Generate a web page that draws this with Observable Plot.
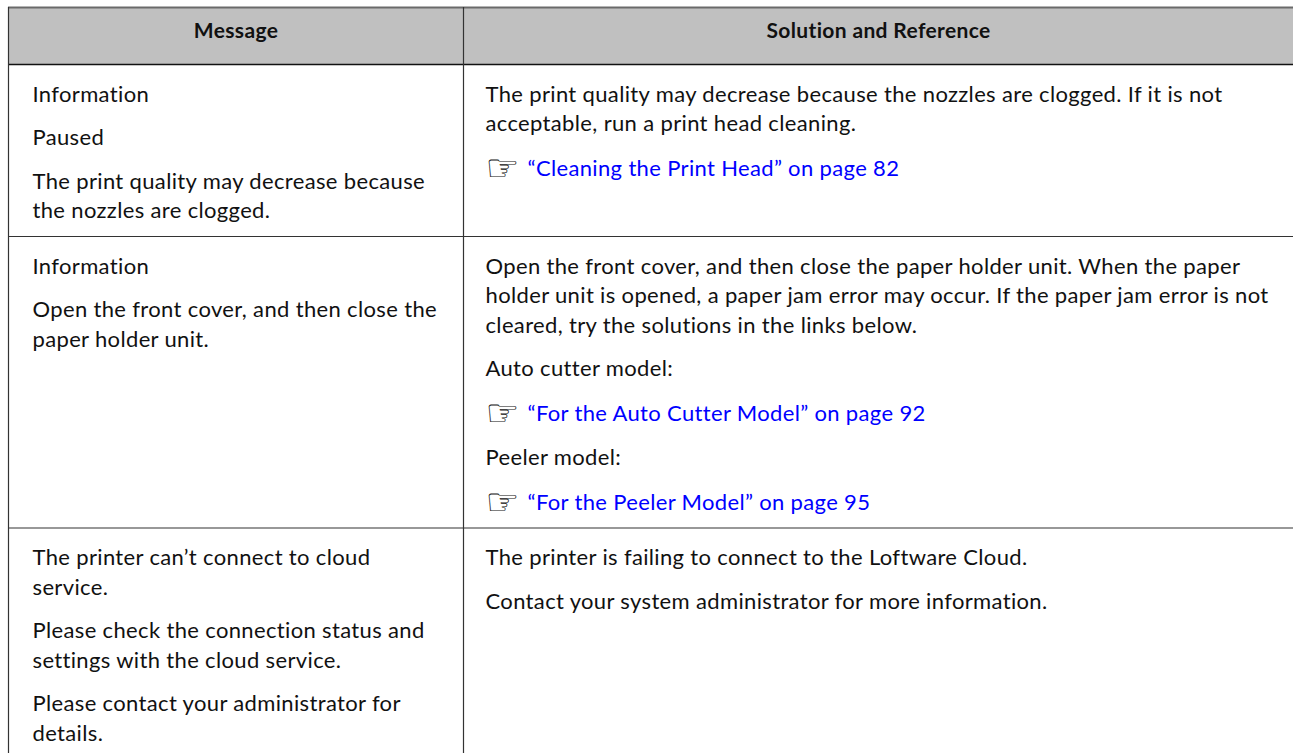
<!DOCTYPE html>
<html>
<head>
<meta charset="utf-8">
<script src="https://cdn.jsdelivr.net/npm/d3@7"></script>
<script src="https://cdn.jsdelivr.net/npm/@observablehq/plot@0.6"></script>
<style>
  html, body { margin: 0; padding: 0; background: #fff; }
  svg { display: block; }
  svg text { font-variant-ligatures: none; letter-spacing: 0.35px; }
</style>
</head>
<body>
<div id="chart"></div>
<script>
// ---- Data (text content) ----
const headers = ["Message", "Solution and Reference"];

const messageRow1 = ["Information", "Paused", "The print quality may decrease because\nthe nozzles are clogged."];
const messageRow2 = ["Information", "Open the front cover, and then close the\npaper holder unit."];
const messageRow3 = ["The printer can’t connect to cloud\nservice.", "Please check the connection status and\nsettings with the cloud service.", "Please contact your administrator for\ndetails."];

const solutionRow1 = [
  "The print quality may decrease because the nozzles are clogged. If it is not\nacceptable, run a print head cleaning.",
  "→“Cleaning the Print Head” on page 82"
];
const solutionRow2 = [
  "Open the front cover, and then close the paper holder unit. When the paper\nholder unit is opened, a paper jam error may occur. If the paper jam error is not\ncleared, try the solutions in the links below.",
  "Auto cutter model:",
  "→“For the Auto Cutter Model” on page 92",
  "Peeler model:",
  "→“For the Peeler Model” on page 95"
];
const solutionRow3 = [
  "The printer is failing to connect to the Loftware Cloud.",
  "Contact your system administrator for more information."
];

const messages = [messageRow1, messageRow2, messageRow3];
const solutions = [solutionRow1, solutionRow2, solutionRow3];

// ---- Layout constants ----
const W = 1293, H = 753;
const X0 = 8, XMID = 463, X1 = 1293;
const TOP = 7, HEAD_BOTTOM = 64;
const PAD_LEFT = 24, PAD_RIGHT_COL = 22;
const FIRST = 37, LINE = 29.5, PARA = 43.5, LINK_EXTRA = 1.5, BOTTOM_PAD = 18.5;
const ICON_W = 42;

const lines = [];   // {x, y, text, kind}
const rowLines = [];
let rowTop = HEAD_BOTTOM;
function layoutCell(paras, x) {
  let y = rowTop + FIRST;
  let last = y;
  paras.forEach((p, i) => {
    const isLink = p.startsWith("→");
    if (i > 0) y += PARA + (isLink ? LINK_EXTRA : 0);
    const parts = (isLink ? p.slice(1) : p).split("\n");
    parts.forEach((t, j) => {
      if (j > 0) y += LINE;
      if (isLink) {
        lines.push({x, y, text: "☞", kind: "icon"});
        lines.push({x: x + ICON_W, y, text: t, kind: "link"});
      } else {
        lines.push({x, y, text: t, kind: "text"});
      }
      last = y;
    });
  });
  return last;
}
messages.forEach((m, r) => {
  const a = layoutCell(m, X0 + PAD_LEFT);
  const b = layoutCell(solutions[r], XMID + PAD_RIGHT_COL);
  rowTop = Math.max(a, b) + BOTTOM_PAD;
  if (r < messages.length - 1) rowLines.push(rowTop);
});

const headerCells = headers.map((h, i) => ({text: h, x: i === 0 ? (X0 + XMID) / 2 : (XMID + X1) / 2}));

const plot = Plot.plot({
  width: W,
  height: H,
  margin: 0,
  x: {domain: [0, W], range: [0, W], axis: null},
  y: {domain: [0, H], range: [0, H], axis: null},
  style: {fontFamily: "Lato, 'Open Sans', sans-serif", background: "#fff", overflow: "visible"},
  marks: [
    Plot.rect([0], {x1: X0, x2: X1, y1: TOP, y2: HEAD_BOTTOM, fill: "#c0c0c0"}),
    Plot.ruleY([TOP], {x1: X0, x2: X1, stroke: "#6a6a6a", strokeWidth: 2}),
    Plot.ruleY([HEAD_BOTTOM], {x1: X0, x2: X1, stroke: "#111", strokeWidth: 1.3}),
    Plot.ruleY(rowLines, {x1: X0, x2: X1, stroke: "#333", strokeWidth: 1.2}),
    Plot.ruleX([X0, XMID], {y1: TOP, y2: H, stroke: "#333", strokeWidth: 1.2}),
    Plot.text(headerCells, {x: "x", y: () => 37.5, text: "text", textAnchor: "middle", lineAnchor: "bottom",
      fontWeight: "bold", fontSize: 21, fill: "#111"}),
    Plot.text(lines.filter(d => d.kind === "text"), {x: "x", y: "y", text: "text", textAnchor: "start",
      lineAnchor: "bottom", fontSize: 22, fill: "#111"}),
    Plot.text(lines.filter(d => d.kind === "link"), {x: "x", y: "y", text: "text", textAnchor: "start",
      lineAnchor: "bottom", fontSize: 22, fill: "#0000ff"}),
    Plot.text(lines.filter(d => d.kind === "icon"), {x: "x", y: "y", text: "text", textAnchor: "start",
      lineAnchor: "bottom", fontSize: 38, fill: "#111", fontFamily: "DejaVu Sans", dy: 5})
  ]
});
document.getElementById("chart").appendChild(plot);
</script>
</body>
</html>
